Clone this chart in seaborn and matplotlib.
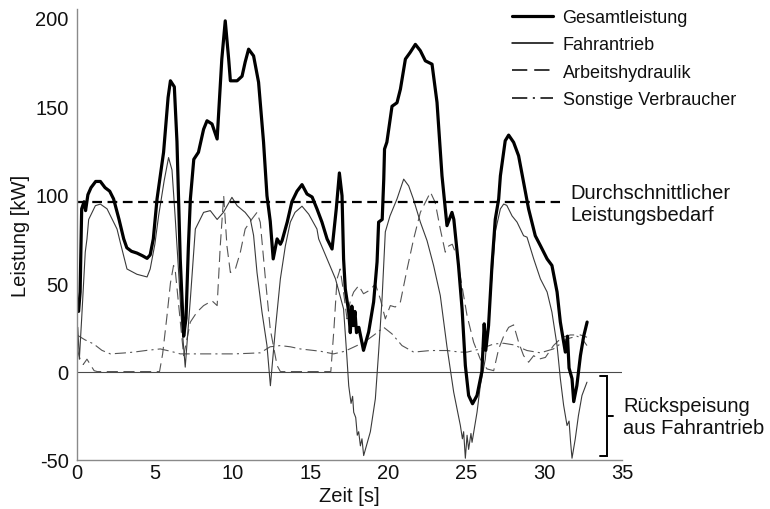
import numpy as np
import pandas as pd
import seaborn as sns
import matplotlib
matplotlib.use("Agg")
import matplotlib.pyplot as plt
from matplotlib.lines import Line2D

# ---------------- data ----------------
t_ges = [0.0, 0.1, 0.2, 0.3, 0.45, 0.55, 0.7, 0.9, 1.2, 1.5, 1.8, 2.1, 2.35, 2.7, 3.0, 3.2, 3.5,
         3.85, 4.2, 4.5, 4.7, 4.9, 5.14, 5.56, 5.85, 6.0, 6.25, 6.42, 6.63, 6.85, 7.0, 7.15, 7.28,
         7.5, 7.8, 8.13, 8.35, 8.67, 9.0, 9.3, 9.52, 9.74, 9.85, 10.28, 10.6, 10.8, 11.02, 11.34,
         11.66, 11.98, 12.2, 12.41, 12.6, 12.85, 13.06, 13.17, 13.5, 13.8, 14.13, 14.45, 14.77,
         15.1, 15.41, 15.73, 16.06, 16.38, 16.65, 16.85, 17.02, 17.12, 17.23, 17.45, 17.55, 17.65,
         17.75, 17.85, 17.95, 18.1, 18.4, 18.73, 19.05, 19.27, 19.37, 19.6, 19.7, 19.75, 19.9,
         20.23, 20.55, 20.77, 21.09, 21.4, 21.73, 22.05, 22.37, 22.8, 23.12, 23.44, 23.76, 24.08,
         24.2, 24.5, 24.73, 24.94, 25.15, 25.4, 25.69, 26.0, 26.15, 26.25, 26.43, 26.65, 26.86,
         27.08, 27.19, 27.5, 27.72, 28.04, 28.36, 28.68, 29.0, 29.43, 29.76, 30.19, 30.5, 30.83,
         31.04, 31.36, 31.5, 31.6, 31.79, 31.9, 32.1, 32.33, 32.54, 32.76]
p_ges = [40, 34, 45, 92, 96, 91, 100, 104, 107.5, 107.5, 104, 102, 97.6, 86, 75, 70, 68,
         67, 65.5, 64, 66, 75, 97.6, 124, 155, 164.4, 161, 130, 63.6, 20, 30, 70, 97.5,
         120, 124, 137, 141.8, 140, 131.5, 176.7, 198.3, 176.7, 164.4, 164.4, 167, 175, 182.3, 178.5,
         163.6, 129.7, 99.4, 85, 63.7, 75, 72, 74, 84.5, 96, 102, 105.7, 100.4,
         98.7, 92, 84.5, 75, 69.3, 92, 112.3, 99.4, 63.7, 46.7, 33.7, 22, 37,
         26, 34, 22, 25, 12, 22.4, 39.4, 62, 84.5, 86, 108.8, 125.8, 129.7,
         150, 152, 159.7, 176.7, 180.5, 185, 181.4, 175.7, 173.8, 152.2, 110.7, 82.5, 90,
         86, 60, 35.4, 3.4, -13.5, -18.2, -13.5, 0, 27, 12, 26, 60, 86,
         97.6, 110.7, 130.5, 133.7, 129.6, 122, 107, 92, 76.8, 71.2, 63.7, 60, 45,
         28, 11, 20, 2, -4, -17, -8, 9, 20, 28]

t_fahr = [0.0, 0.05, 0.15, 0.3, 0.53, 0.64, 0.75, 1.18, 1.5, 1.93, 2.57, 2.78, 3.21, 3.85, 4.5,
          4.7, 5.0, 5.24, 5.6, 5.88, 6.1, 6.3, 6.5, 6.7, 6.95, 7.1, 7.28, 7.6, 8.13, 8.56, 9.0,
          9.4, 9.95, 10.28, 10.8, 11.13, 11.34, 11.56, 11.88, 12.2, 12.42, 12.74, 13.06, 13.38,
          13.7, 14.0, 14.45, 14.88, 15.41, 15.52, 16.06, 16.6, 17.12, 17.34, 17.45, 17.6, 17.7,
          17.77, 17.9, 18.0, 18.09, 18.2, 18.3, 18.41, 18.84, 19.16, 19.37, 19.59, 19.8, 20.1,
          20.55, 20.98, 21.3, 21.6, 22.05, 22.48, 22.9, 23.33, 23.76, 24.19, 24.62, 24.75, 24.83,
          24.94, 25.05, 25.15, 25.3, 25.37, 25.69, 25.9, 26.22, 26.54, 26.86, 27.19, 27.4, 27.6,
          27.94, 28.26, 28.68, 28.9, 29.33, 29.76, 30.19, 30.5, 30.83, 31.04, 31.25, 31.47, 31.6,
          31.7, 31.79, 32.0, 32.2, 32.43, 32.75]
p_fahr = [-5, 25, 7, 30, 67.5, 75, 86, 93.8, 94.7, 92, 80.6, 73, 58, 55, 53.5,
          58, 72, 88, 108, 121, 114, 88, 60, 30, 2.5, 20, 41, 80.6, 90, 91, 86,
          90, 98.5, 93.8, 90, 86.3, 77, 56, 33.6, 14.7, -8, 24, 52.4, 71,
          84.5, 90, 93.5, 89, 80.6, 75, 63.7, 52.4, 35.4, 7.2, -8, -18, -14,
          -23, -26, -36, -34, -42, -38, -47.5, -34, -15.4, 11, 41, 79, 88,
          97.6, 108.8, 105, 97.6, 84.5, 74, 60, 43, 14, -11.6, -30.5, -38, -34,
          -49, -36, -44, -35, -40, -23, -8, 7, 41, 79, 92, 94.7, 94,
          88, 84.5, 76.8, 76, 63.7, 52.4, 45, 33.6, 14.7, -4, -19, -30.5, -28,
          -40, -49, -38, -25, -13.5, -6]

t_hyd = [0.0, 0.2, 0.4, 0.64, 0.85, 1.1, 1.3, 5.3, 5.5, 5.78, 6.0, 6.2, 6.3, 6.85, 7.28, 7.7,
         8.13, 8.67, 9.0, 9.2, 9.42, 9.63, 9.85, 10.17, 10.49, 10.8, 11.24, 11.56, 11.77, 12.1,
         12.41, 12.85, 13.06, 16.3, 16.5, 16.7, 16.9, 17.1, 17.34, 17.55, 17.77, 18.09, 18.4,
         18.8, 19.16, 19.48, 19.8, 20.12, 20.44, 20.77, 21.2, 21.62, 22.05, 22.48, 22.7, 23.0,
         23.33, 23.65, 23.87, 24.1, 24.4, 25.05, 25.47, 25.9, 26.33, 26.76, 27.08, 27.4, 27.72,
         28.04, 28.36, 28.68, 29.0, 29.33, 29.65, 30.08, 30.6, 31.15, 31.68, 32.33, 32.75]
p_hyd = [13, 7, 4, 7, 4, 0.5, 0, 0, 10, 31.6, 50, 60, 58, 9, 28, 33.6,
         37.3, 40, 37.3, 71, 99.4, 71, 56, 58, 67.5, 80.6, 86.3, 90, 84.4, 52.4,
         24, 3.4, 0, 0, 24, 52.4, 58, 46, 29.8, 40, 45, 48.6, 44,
         46, 49.5, 41, 29.8, 37.3, 36.5, 39.4, 58, 75, 90, 97.6, 101.4, 95.7,
         80.6, 67.5, 71, 72, 65, 31.6, 16.6, 7, 1.5, 0.5, 12.8, 20, 25,
         26.4, 16.6, 9, 5.3, 9, 7, 8, 14.7, 19.4, 20.7, 20.7, 19.4]

t_sonst = [0.0, 0.5, 1.07, 1.6, 2.14, 3.0, 3.64, 4.5, 5.35, 6.0, 6.63, 8.0, 10.06, 11.0, 11.77,
           12.4, 13.06, 13.7, 14.34, 15.63, 16.48, 17.2, 17.98, 18.5, 19.05, 19.7, 20.23, 20.87,
           21.62, 22.7, 23.76, 24.6, 25.05, 25.9, 26.76, 27.4, 28.04, 28.9, 29.76, 30.6, 31.47,
           32.1, 32.4, 32.75]
p_sonst = [20.7, 18, 15.6, 12, 10, 10.5, 11, 12, 12.8, 11.5, 10, 10, 10, 10.3, 10.6,
           14, 14.7, 14, 12.8, 11.5, 10, 11.5, 14.7, 17, 20.5, 25, 21.3, 14.7,
           11, 11.9, 11.9, 11, 11, 12.8, 15.6, 16, 15.1, 11.9, 10.6, 12.8, 18.5,
           20, 19, 14.7]

avg_value = 96
avg_span = [0, 31]

series_labels = ["Gesamtleistung", "Fahrantrieb", "Arbeitshydraulik", "Sonstige Verbraucher"]
x_ticks = [0, 5, 10, 15, 20, 25, 30, 35]
y_ticks = [-50, 0, 50, 100, 150, 200]
avg_text = "Durchschnittlicher\nLeistungsbedarf"
regen_text = "Rückspeisung\naus Fahrantrieb"
bracket_top, bracket_bottom = -2.3, -48

# ---------------- styling ----------------
sns.set_style("white")
plt.rcParams["font.family"] = ["Liberation Sans", "DejaVu Sans"]
plt.rcParams["lines.scale_dashes"] = False
plt.rcParams["axes.unicode_minus"] = False
plt.rcParams["text.color"] = "#111111"
plt.rcParams["axes.labelcolor"] = "#111111"

fig = plt.figure(figsize=(7.7, 5.1), dpi=100)
ax = fig.add_axes([77 / 770, 1 - 461 / 510, (622 - 77) / 770, (461 - 10) / 510])

spine_col = "#8a8a8a"
styles = {
    "Gesamtleistung": dict(color="#000000", lw=2.3, ls="-"),
    "Fahrantrieb": dict(color="#3a3a3a", lw=0.8, ls="-"),
    "Arbeitshydraulik": dict(color="#555555", lw=0.8, ls=(0, (8, 4))),
    "Sonstige Verbraucher": dict(color="#555555", lw=0.8, ls=(0, (8, 3, 1.5, 3))),
}
legend_lw = {"Gesamtleistung": 2.3, "Fahrantrieb": 1.1,
             "Arbeitshydraulik": 1.1, "Sonstige Verbraucher": 1.1}
legend_ls = {"Gesamtleistung": "-", "Fahrantrieb": "-",
             "Arbeitshydraulik": (0, (11, 5)), "Sonstige Verbraucher": (0, (11, 4, 1.5, 4))}

ax.axhline(0, color="#4a4a4a", lw=0.8, zorder=1)

data = [(t_hyd, p_hyd, "Arbeitshydraulik"),
        (t_sonst, p_sonst, "Sonstige Verbraucher"),
        (t_fahr, p_fahr, "Fahrantrieb"),
        (t_ges, p_ges, "Gesamtleistung")]
for tt, pp, name in data:
    df = pd.DataFrame({"t": tt, "p": pp})
    st = styles[name]
    sns.lineplot(data=df, x="t", y="p", ax=ax, estimator=None, sort=False,
                 color=st["color"], linewidth=st["lw"], linestyle=st["ls"], legend=False)

# average line
avg_df = pd.DataFrame({"t": avg_span, "p": [avg_value, avg_value]})
sns.lineplot(data=avg_df, x="t", y="p", ax=ax, estimator=None, color="black",
             linewidth=1.6, linestyle=(0, (7, 4)), legend=False)

ax.set_xlim(0, 35)
ax.set_ylim(-50, 205)
ax.set_xticks(x_ticks)
ax.set_yticks(y_ticks)
ax.set_xlabel("Zeit [s]", fontsize=14.5, labelpad=3, color="#111111")
ax.set_ylabel("Leistung [kW]", fontsize=14.5, labelpad=4, color="#111111")
ax.tick_params(axis="both", direction="in", length=4, width=0.8, color=spine_col,
               labelsize=14.5, labelcolor="#111111")
ax.tick_params(axis="x", pad=2)
ax.tick_params(axis="y", pad=6)
for s in ["top", "right"]:
    ax.spines[s].set_visible(False)
for s in ["left", "bottom"]:
    ax.spines[s].set_color(spine_col)
    ax.spines[s].set_linewidth(1.0)

# annotations
ax.text(31.7, 95, avg_text, fontsize=14.5, va="center", ha="left", linespacing=1.2)
ax.text(35.07, -25.6, regen_text, fontsize=14.5, va="center", ha="left", linespacing=1.2,
        clip_on=False)
xb = 34.04
ax.plot([33.6, xb, xb, 33.6], [bracket_top, bracket_top, bracket_bottom, bracket_bottom],
        color="black", lw=1.4, clip_on=False, solid_joinstyle="miter")
ax.plot([xb, 34.4], [-25, -25], color="black", lw=1.4, clip_on=False)

# legend
handles = [Line2D([], [], color="black", lw=legend_lw[n], ls=legend_ls[n]) for n in series_labels]
leg = ax.legend(handles, series_labels, loc="upper left",
                bbox_to_anchor=(511.7 / 770, 1 - 10.0 / 510), bbox_transform=fig.transFigure,
                frameon=False, fontsize=13, handlelength=2.28, handletextpad=0.54,
                labelspacing=0.57, borderpad=0, borderaxespad=0)
for txt in leg.get_texts():
    txt.set_color("#111111")

fig.savefig("out.png", dpi=100)
